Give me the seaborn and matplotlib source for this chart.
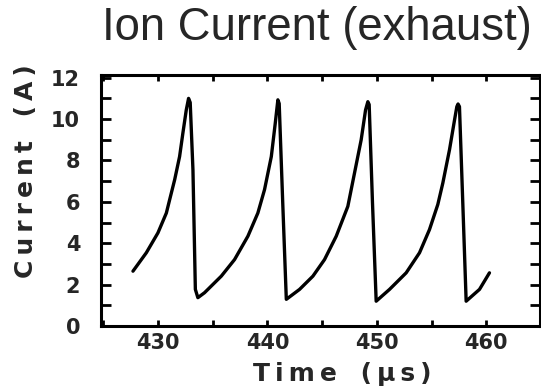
import matplotlib
matplotlib.use("Agg")
import matplotlib.pyplot as plt
import seaborn as sns
import pandas as pd
from matplotlib.ticker import MultipleLocator

time_us = [427.72, 428.94, 430.0, 430.77, 431.07, 431.53, 431.98, 432.28, 432.59, 432.8,
           432.95, 433.2, 433.42, 433.65, 434.26, 435.79, 437.0, 438.22, 439.13, 439.74,
           440.36, 440.72, 440.96, 441.08, 441.4, 441.73, 442.94, 444.16, 445.22, 446.29,
           447.35, 447.96, 448.57, 448.97, 449.18, 449.3, 449.6, 449.94, 451.16, 452.68,
           453.9, 454.81, 455.57, 456.03, 456.64, 457.1, 457.31, 457.42, 457.55, 457.85,
           458.16, 459.38, 460.29]
current_a = [2.65, 3.54, 4.50, 5.46, 6.10, 7.07, 8.19, 9.32, 10.44, 11.0,
             10.8, 7.55, 1.77, 1.37, 1.61, 2.41, 3.21, 4.34, 5.46, 6.59,
             8.19, 9.80, 10.93, 10.75, 6.0, 1.29, 1.77, 2.41, 3.21, 4.34,
             5.78, 7.39, 9.0, 10.44, 10.84, 10.7, 6.0, 1.2, 1.77, 2.57,
             3.54, 4.66, 5.87, 6.91, 8.52, 9.96, 10.6, 10.73, 10.6, 6.0,
             1.2, 1.77, 2.57]

title = "Ion Current (exhaust)"
xlabel = "T\u2009i\u2009m\u2009e\u2009 \u2009\u2009(\u2009\u00b5\u2009s\u2009)"
ylabel = "C\u2009u\u2009r\u2009r\u2009e\u2009n\u2009t\u2009 \u2009\u2009(\u2009A\u2009)"

sns.set_style("ticks")
plt.rcParams['font.family'] = ['DejaVu Sans']

df = pd.DataFrame({"t": time_us, "i": current_a})

fig = plt.figure(figsize=(5.41, 3.86), dpi=100)
ax = fig.add_axes([0.1867, 0.1554, 0.8113, 0.6503])
sns.lineplot(data=df, x="t", y="i", ax=ax, color="black", linewidth=2.4, sort=False)
ax.lines[0].set_solid_joinstyle("round")
ax.lines[0].set_solid_capstyle("round")

ax.set_xlim(424.8, 464.9)
ax.set_ylim(0, 12.13)
ax.xaxis.set_major_locator(MultipleLocator(10))
ax.xaxis.set_minor_locator(MultipleLocator(5))
ax.yaxis.set_major_locator(MultipleLocator(2))
ax.yaxis.set_minor_locator(MultipleLocator(1))
ax.tick_params(axis="both", which="both", direction="in", top=True, right=True,
               width=2, color="black")
ax.tick_params(axis="x", which="both", length=4, pad=5)
ax.tick_params(axis="y", which="both", length=7, pad=15)
for lbl in ax.get_xticklabels() + ax.get_yticklabels():
    lbl.set_fontweight("bold")
    lbl.set_fontsize(15)
for s in ax.spines.values():
    s.set_linewidth(2.2)
    s.set_color("black")

ax.set_xlabel(xlabel, fontsize=18, fontweight="bold")
ax.set_ylabel(ylabel, fontsize=18, fontweight="bold")
ax.xaxis.set_label_coords((342 - 101) / 439, -(386 - 326) / 251, transform=ax.transAxes)
ax.xaxis.label.set_va("bottom")
ax.yaxis.set_label_coords(-(101 - 26) / 439, (326 - 171.5) / 251, transform=ax.transAxes)
ax.yaxis.label.set_va("center")
fig.text(0.585, 0.985, title, ha="center", va="top", fontsize=32.8,
         family=["Liberation Sans", "DejaVu Sans"])

fig.savefig("out.png", dpi=100)
